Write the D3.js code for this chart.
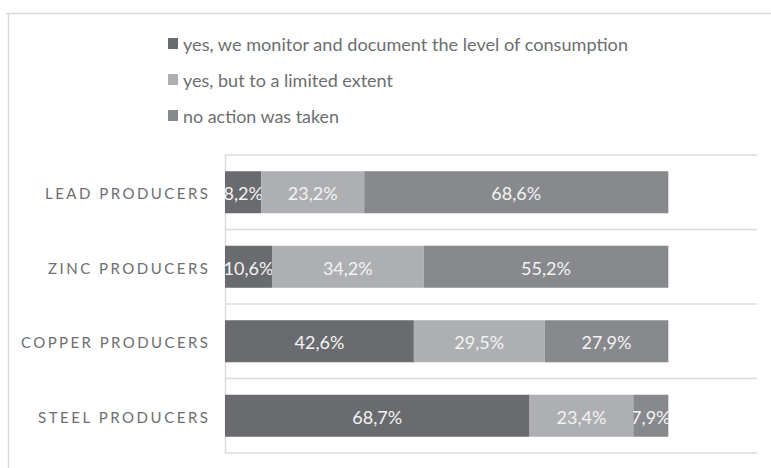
<!DOCTYPE html>
<html><head><meta charset="utf-8">
<script src="https://cdn.jsdelivr.net/npm/d3@7"></script>
<style>html,body{margin:0;padding:0;background:#fff;}</style>
</head><body>
<svg id="c" width="771" height="468"></svg>
<script>
const categories = ["LEAD PRODUCERS", "ZINC PRODUCERS", "COPPER PRODUCERS", "STEEL PRODUCERS"];
const seriesNames = ["yes, we monitor and document the level of consumption", "yes, but to a limited extent", "no action was taken"];
const monitored = [8.2, 10.6, 42.6, 68.7];
const limited = [23.2, 34.2, 29.5, 23.4];
const noAction = [68.6, 55.2, 27.9, 7.9];
const colors = ["#6a6b6f", "#aeafb2", "#88898d"];

const svg = d3.select("#c");
const W = 771, H = 468;
const plot = {left: 225, right: 757, top: 155, bottom: 453};

// outer frame
svg.append("line").attr("x1", 6).attr("x2", W).attr("y1", 13.5).attr("y2", 13.5).attr("stroke", "#d9d9d9").attr("stroke-width", 1.5);
svg.append("line").attr("x1", 8.5).attr("x2", 8.5).attr("y1", 13).attr("y2", H).attr("stroke", "#d9d9d9").attr("stroke-width", 1.5);

const x = d3.scaleLinear().domain([0, 120]).range([plot.left, plot.right]);
const p = 0.436;
const y = d3.scaleBand().domain(categories).range([plot.top, plot.bottom]).paddingInner(p).paddingOuter(p / 2);

// gridlines at band boundaries
const bounds = d3.range(categories.length + 1).map(i => plot.top + i * y.step());
svg.append("g").selectAll("line").data(bounds).join("line")
  .attr("x1", plot.left).attr("x2", plot.right)
  .attr("y1", d => d).attr("y2", d => d)
  .attr("stroke", "#dcdcdc").attr("stroke-width", 1.5);
svg.append("line").attr("x1", plot.left + 0.5).attr("x2", plot.left + 0.5)
  .attr("y1", plot.top).attr("y2", plot.bottom).attr("stroke", "#dcdcdc").attr("stroke-width", 1.5);

// stacked data
const rows = categories.map((c, i) => ({cat: c, v: [monitored[i], limited[i], noAction[i]]}));
const segs = [];
rows.forEach((r, ri) => {
  let acc = 0;
  r.v.forEach((v, si) => {
    segs.push({cat: r.cat, s: si, x0: acc, x1: acc + v, v, id: "cp" + ri + "_" + si});
    acc += v;
  });
});

const defs = svg.append("defs");
defs.selectAll("clipPath").data(segs).join("clipPath").attr("id", d => d.id)
  .append("rect")
  .attr("x", d => x(d.x0)).attr("y", d => y(d.cat))
  .attr("width", d => x(d.x1) - x(d.x0)).attr("height", y.bandwidth());

svg.append("g").selectAll("rect").data(segs).join("rect")
  .attr("x", d => x(d.x0)).attr("y", d => y(d.cat))
  .attr("width", d => x(d.x1) - x(d.x0)).attr("height", y.bandwidth())
  .attr("fill", d => colors[d.s]);

const fmt = v => v.toFixed(1).replace(".", ",") + "%";
svg.append("g").selectAll("text").data(segs).join("text")
  .attr("clip-path", d => "url(#" + d.id + ")")
  .attr("x", d => (x(d.x0) + x(d.x1)) / 2)
  .attr("y", d => y(d.cat) + y.bandwidth() / 2 + 1)
  .attr("text-anchor", "middle").attr("dominant-baseline", "central")
  .attr("font-family", "Lato, 'Open Sans', sans-serif").attr("font-size", 18)
  .attr("fill", "#f3f3f3")
  .text(d => fmt(d.v));

// category labels
const catW = [163, 160, 187, 170];
svg.append("g").selectAll("text").data(categories).join("text")
  .attr("x", 208).attr("y", d => y(d) + y.bandwidth() / 2 + 1)
  .attr("text-anchor", "end").attr("dominant-baseline", "central")
  .attr("font-family", "Lato, 'Open Sans', sans-serif").attr("font-size", 15)
  .attr("textLength", (d, i) => catW[i]).attr("lengthAdjust", "spacing")
  .attr("fill", "#6d6e71")
  .text(d => d);

// legend
const legY = [44, 80, 116];
const legW = [445, 210, 156];
const lg = svg.append("g");
lg.selectAll("rect").data(seriesNames).join("rect")
  .attr("x", 168).attr("y", (d, i) => legY[i] - 6).attr("width", 10).attr("height", 11)
  .attr("fill", (d, i) => colors[i]);
lg.selectAll("text").data(seriesNames).join("text")
  .attr("x", 183).attr("y", (d, i) => legY[i])
  .attr("dominant-baseline", "central")
  .attr("font-family", "Lato, 'Open Sans', sans-serif").attr("font-size", 18)
  .attr("fill", "#6d6e71")
  .attr("textLength", (d, i) => legW[i]).attr("lengthAdjust", "spacingAndGlyphs")
  .text(d => d);
</script>
</body></html>
